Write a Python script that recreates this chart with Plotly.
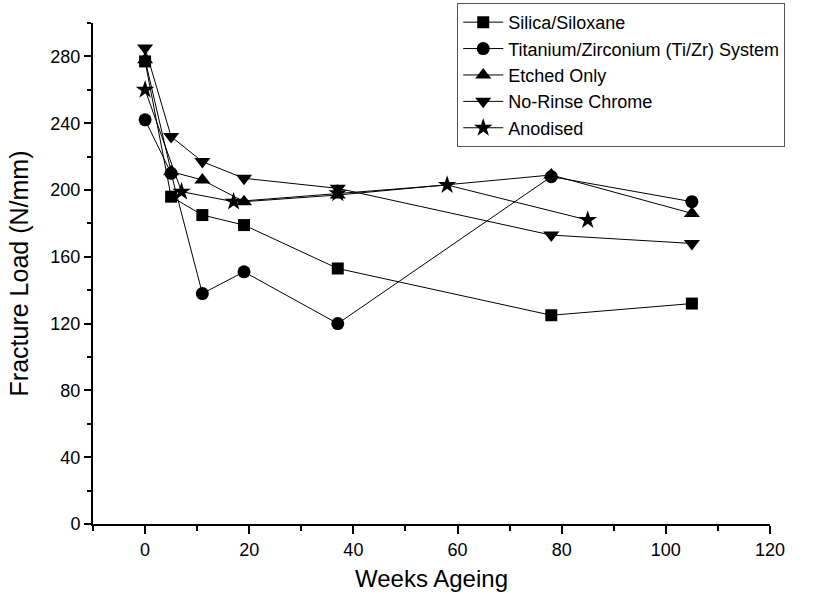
import plotly.graph_objects as go

series_names = ["Silica/Siloxane", "Titanium/Zirconium (Ti/Zr) System", "Etched Only", "No-Rinse Chrome", "Anodised"]
symbols = ["square", "circle", "triangle-up", "triangle-down", "star"]

silica_x = [0, 5, 11, 19, 37, 78, 105]
silica_y = [277, 196, 185, 179, 153, 125, 132]

tizr_x = [0, 5, 11, 19, 37, 78, 105]
tizr_y = [242, 210, 138, 151, 120, 208, 193]

etched_x = [0, 5, 11, 19, 37, 78, 105]
etched_y = [278, 211, 206, 193, 197, 209, 186]

chrome_x = [0, 5, 11, 19, 37, 78, 105]
chrome_y = [285, 232, 217, 207, 201, 173, 168]

anod_x = [0, 7, 17, 37, 58, 85]
anod_y = [260, 199, 193, 198, 203, 182]

xs = [silica_x, tizr_x, etched_x, chrome_x, anod_x]
ys = [silica_y, tizr_y, etched_y, chrome_y, anod_y]
marker_sizes = [12, 13, 14, 14, 14]

fig = go.Figure()
for name, sym, x, y, ms in zip(series_names, symbols, xs, ys, marker_sizes):
    fig.add_trace(go.Scatter(
        x=x, y=y, name=name, mode="lines+markers",
        line=dict(color="black", width=1),
        marker=dict(symbol=sym, size=ms, color="black", line=dict(width=0)),
    ))

font_family = "Liberation Sans, Arial, sans-serif"
fig.update_layout(
    width=826, height=603,
    margin=dict(l=93, r=56, t=23, b=79, autoexpand=False),
    paper_bgcolor="white", plot_bgcolor="white",
    font=dict(family=font_family, color="black", size=18),
    showlegend=True,
    legend=dict(
        x=0.538, y=1.04, xanchor="left", yanchor="top",
        bordercolor="#555", borderwidth=1, bgcolor="white",
        font=dict(size=18, family=font_family),
        tracegroupgap=0, itemwidth=40,
    ),
    xaxis=dict(
        range=[-10, 120], tick0=0, dtick=20,
        showgrid=False, zeroline=False,
        showline=True, linecolor="black", linewidth=2,
        ticks="outside", ticklen=8, tickwidth=1.5, tickcolor="black",
        minor=dict(dtick=10, tick0=0, ticks="outside", ticklen=5, tickwidth=1.5, tickcolor="black"),
        title=dict(text="Weeks Ageing", font=dict(size=24), standoff=12),
        tickfont=dict(size=18),
    ),
    yaxis=dict(
        range=[0, 300], tick0=0, dtick=40,
        showgrid=False, zeroline=False,
        showline=True, linecolor="black", linewidth=2,
        ticks="outside", ticklen=7, tickwidth=1.5, tickcolor="black",
        minor=dict(dtick=20, tick0=0, ticks="outside", ticklen=4, tickwidth=1.5, tickcolor="black"),
        title=dict(text="Fracture Load (N/mm)", font=dict(size=25), standoff=15),
        tickfont=dict(size=18),
    ),
)

fig.write_html("out.html")
